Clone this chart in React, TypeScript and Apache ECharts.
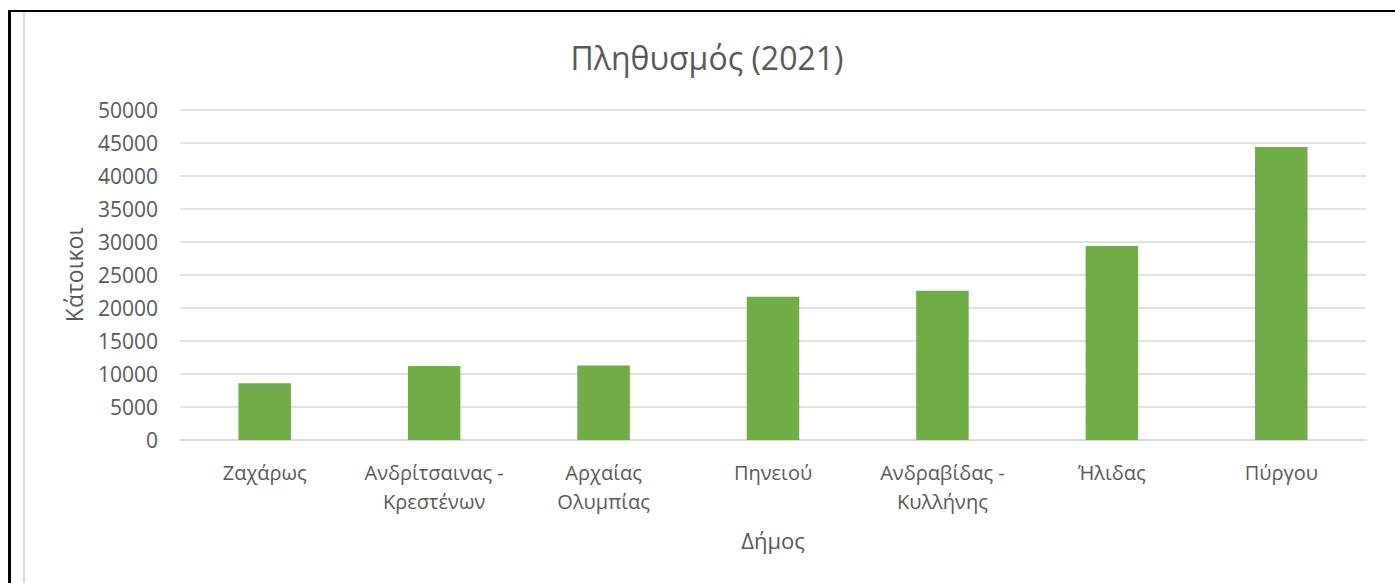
import React, { useEffect, useRef } from "react";
import * as echarts from "echarts";

const categories: string[] = [
  "Ζαχάρως",
  "Ανδρίτσαινας -\nΚρεστένων",
  "Αρχαίας\nΟλυμπίας",
  "Πηνειού",
  "Ανδραβίδας -\nΚυλλήνης",
  "Ήλιδας",
  "Πύργου",
];
const population: number[] = [8600, 11200, 11300, 21700, 22600, 29400, 44400];

const titleText = "Πληθυσμός (2021)";
const yAxisName = "Κάτοικοι";
const xAxisName = "Δήμος";

const FONT = "'Open Sans', 'Noto Sans', sans-serif";
const TEXT = "#595959";

export default function App() {
  const ref = useRef<HTMLDivElement>(null);
  useEffect(() => {
    if (!ref.current) return;
    const chart = echarts.init(ref.current, null, { renderer: "svg" });
    chart.setOption({
      animation: false,
      backgroundColor: "#ffffff",
      textStyle: { fontFamily: FONT },
      title: {
        text: titleText,
        left: 702,
        textAlign: "center",
        top: 36,
        textStyle: { fontFamily: FONT, fontSize: 32, fontWeight: "normal", color: TEXT },
      },
      grid: { left: 180, right: 29, top: 110, bottom: 143 },
      xAxis: {
        type: "category",
        data: categories,
        name: xAxisName,
        nameLocation: "middle",
        nameGap: 89,
        nameTextStyle: { fontFamily: FONT, fontSize: 22, color: TEXT },
        axisLine: { show: true, lineStyle: { color: "#d9d9d9", width: 1.5 } },
        axisTick: { show: false },
        axisLabel: {
          interval: 0,
          margin: 18,
          fontFamily: FONT,
          fontSize: 20,
          lineHeight: 29,
          color: TEXT,
          align: "center",
        },
      },
      yAxis: {
        type: "value",
        min: 0,
        max: 50000,
        interval: 5000,
        name: yAxisName,
        nameLocation: "middle",
        nameGap: 95,
        nameRotate: 90,
        nameTextStyle: { fontFamily: FONT, fontSize: 23, color: TEXT },
        axisLine: { show: false },
        axisTick: { show: false },
        axisLabel: {
          margin: 22,
          fontFamily: FONT,
          fontSize: 21,
          color: TEXT,
          formatter: (v: number) => String(v),
        },
        splitLine: { lineStyle: { color: "#d9d9d9", width: 1.5 } },
      },
      series: [
        {
          type: "bar",
          data: population,
          barWidth: "31%",
          itemStyle: { color: "#70AD47" },
        },
      ],
      graphic: [
        {
          type: "line",
          shape: { x1: 8, y1: 11, x2: 1395, y2: 11 },
          style: { stroke: "#000000", lineWidth: 2 },
        },
        {
          type: "line",
          shape: { x1: 9.5, y1: 10, x2: 9.5, y2: 583 },
          style: { stroke: "#000000", lineWidth: 3 },
        },
        {
          type: "line",
          shape: { x1: 24, y1: 12, x2: 24, y2: 583 },
          style: { stroke: "#d9d9d9", lineWidth: 2 },
        },
      ],
    });
    return () => chart.dispose();
  }, []);
  return (
    <div
      ref={ref}
      style={{ position: "fixed", left: 0, top: 0, width: 1395, height: 583 }}
    />
  );
}
